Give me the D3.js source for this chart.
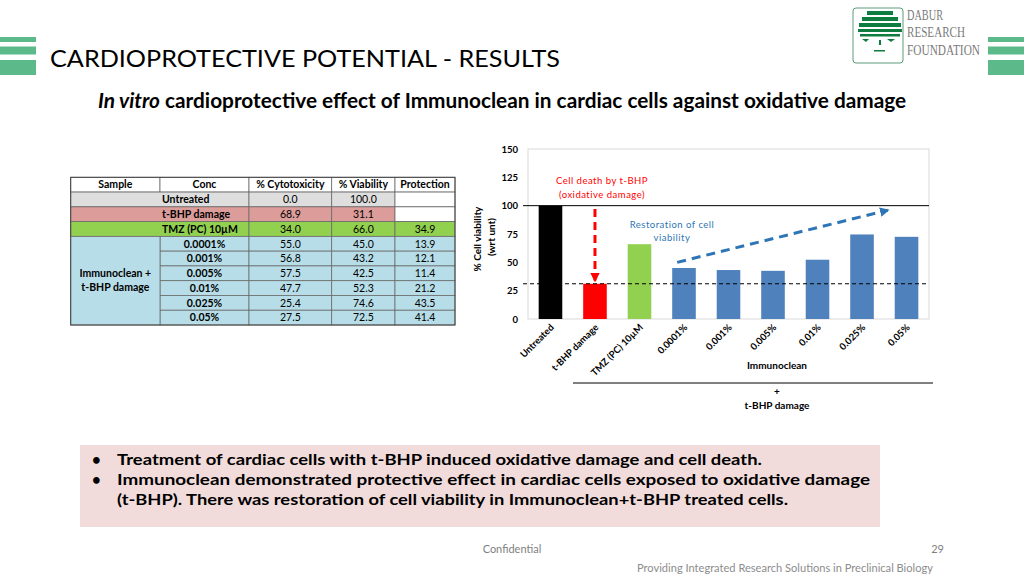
<!DOCTYPE html>
<html>
<head>
<meta charset="utf-8">
<script src="https://cdn.jsdelivr.net/npm/d3@7"></script>
<style>
  body { margin: 0; background: #fff; }
  svg { display: block; font-family: Lato, "Open Sans", sans-serif; }
</style>
</head>
<body>
<svg id="slide" width="1024" height="576"></svg>
<script>
// data
var categories = ["Untreated", "t-BHP damage", "TMZ (PC) 10µM", "0.0001%", "0.001%", "0.005%", "0.01%", "0.025%", "0.05%"];
var groups = ["untreated", "damage", "pc", "test", "test", "test", "test", "test", "test"];
var viability = [100.0, 31.1, 66.0, 45.0, 43.2, 42.5, 52.3, 74.6, 72.5];
var cytotoxicity = [0.0, 68.9, 34.0, 55.0, 56.8, 57.5, 47.7, 25.4, 27.5];
var protection = [null, null, 34.9, 13.9, 12.1, 11.4, 21.2, 43.5, 41.4];
var yTicks = [0, 25, 50, 75, 100, 125, 150];
var tableHeaders = ["Sample", "Conc", "% Cytotoxicity", "% Viability", "Protection"];
var bullets = [
  ["Treatment of cardiac cells with t-BHP induced oxidative damage and cell death."],
  ["Immunoclean demonstrated protective effect in cardiac cells exposed to oxidative damage",
   "(t-BHP). There was restoration of cell viability in Immunoclean+t-BHP treated cells."]
];

var svg = d3.select("#slide");

// scale a text's font size so it spans the given width
function fitText(sel, w) {
  var fs = parseFloat(sel.attr("font-size"));
  var len = sel.node().getComputedTextLength();
  sel.attr("font-size", fs * w / len);
  return sel;
}

// ---- header ----
var barGreen = "#5cb98a";
[[37, 5], [46.5, 8], [60, 15]].forEach(function (b) {
  svg.append("rect").attr("x", 0).attr("y", b[0]).attr("width", 36).attr("height", b[1]).attr("fill", barGreen);
  svg.append("rect").attr("x", 988).attr("y", b[0]).attr("width", 36).attr("height", b[1]).attr("fill", barGreen);
});

svg.append("text")
  .attr("x", 50).attr("y", 67)
  .attr("font-size", 24).attr("font-weight", 400)
  .attr("fill", "#000")
  .attr("textLength", 510).attr("lengthAdjust", "spacingAndGlyphs")
  .text("CARDIOPROTECTIVE POTENTIAL - RESULTS");

// logo
svg.append("rect").attr("x", 853).attr("y", 8).attr("width", 50).attr("height", 55)
  .attr("rx", 3).attr("fill", "#fff").attr("stroke", "#5c9c7a").attr("stroke-width", 1);
var treeGreen = "#0f7d3f";
[[867, 11, 26, 4], [862, 17, 36, 4], [859, 23, 42, 4], [858, 29, 44, 3], [860, 34, 40, 2.5]].forEach(function (r) {
  svg.append("rect").attr("x", r[0]).attr("y", r[1]).attr("width", r[2]).attr("height", r[3]).attr("fill", treeGreen);
});
svg.append("path").attr("d", "M862,39 L869,39 L866,42 Z").attr("fill", treeGreen);
svg.append("path").attr("d", "M887,39 L895,39 L891,42 Z").attr("fill", treeGreen);
svg.append("rect").attr("x", 879).attr("y", 40).attr("width", 2).attr("height", 5).attr("fill", treeGreen);
svg.append("rect").attr("x", 874).attr("y", 50).attr("width", 11).attr("height", 1.5).attr("fill", treeGreen);
[["DABUR", 20, 36], ["RESEARCH", 37, 58], ["FOUNDATION", 55, 73]].forEach(function (t) {
  svg.append("text").attr("x", 907).attr("y", t[1])
    .attr("font-family", "Liberation Serif, serif").attr("font-size", 14)
    .attr("fill", "#7a7a7a")
    .attr("textLength", t[2]).attr("lengthAdjust", "spacingAndGlyphs")
    .text(t[0]);
});

// subtitle
var sub = svg.append("text").attr("x", 98).attr("y", 108)
  .attr("font-size", 16).attr("font-weight", "bold").attr("fill", "#000");
sub.append("tspan").attr("font-style", "italic").text("In vitro");
sub.append("tspan").text(" cardioprotective effect of Immunoclean in cardiac cells against oxidative damage");
fitText(sub, 809);

// ---- table ----
var colX = [70.7, 160, 249, 331.7, 395, 455];
var rowY = d3.range(11).map(function (i) { return 177.3 + i * 14.77; });
var rowFill = { untreated: "#dedede", damage: "#dc9c9a", pc: "#92d050", test: "#b7dee8" };
var tbl = svg.append("g").attr("font-size", 10.5).attr("fill", "#000");
var lineCol = "#6b6b6b";

function cell(x0, x1, y0, y1, fill) {
  tbl.append("rect").attr("x", x0).attr("y", y0).attr("width", x1 - x0).attr("height", y1 - y0)
    .attr("fill", fill).attr("stroke", lineCol).attr("stroke-width", 0.8);
}
function label(x, y, txt, bold, anchor) {
  tbl.append("text").attr("x", x).attr("y", y).attr("dy", "0.36em")
    .attr("text-anchor", anchor || "middle")
    .attr("font-weight", bold ? "bold" : "normal")
    .text(txt);
}

// header row
tableHeaders.forEach(function (h, j) {
  cell(colX[j], colX[j + 1], rowY[0], rowY[1], "#fff");
  label((colX[j] + colX[j + 1]) / 2, (rowY[0] + rowY[1]) / 2, h, true);
});

categories.forEach(function (c, i) {
  var y0 = rowY[i + 1], y1 = rowY[i + 2], ym = (y0 + y1) / 2;
  var f = rowFill[groups[i]];
  if (groups[i] !== "test") {
    cell(colX[0], colX[2], y0, y1, f);
    label(colX[1] + 2, ym, c, true, "start");
  } else {
    cell(colX[1], colX[2], y0, y1, f);
    label((colX[1] + colX[2]) / 2, ym, c, true);
  }
  cell(colX[2], colX[3], y0, y1, f);
  label((colX[2] + colX[3]) / 2, ym, cytotoxicity[i].toFixed(1), false);
  cell(colX[3], colX[4], y0, y1, f);
  label((colX[3] + colX[4]) / 2, ym, viability[i].toFixed(1), false);
  cell(colX[4], colX[5], y0, y1, protection[i] === null ? "#fff" : f);
  if (protection[i] !== null) label((colX[4] + colX[5]) / 2, ym, protection[i].toFixed(1), false);
});
// merged "Immunoclean + t-BHP damage" cell
var firstTest = groups.indexOf("test");
cell(colX[0], colX[1], rowY[firstTest + 1], rowY[10], rowFill.test);
label((colX[0] + colX[1]) / 2, 273.3, "Immunoclean +", true);
label((colX[0] + colX[1]) / 2, 287.3, "t-BHP damage", true);
tbl.append("rect").attr("x", colX[0]).attr("y", rowY[0]).attr("width", colX[5] - colX[0])
  .attr("height", rowY[10] - rowY[0]).attr("fill", "none").attr("stroke", "#444").attr("stroke-width", 1);

// ---- bar chart ----
var plot = { left: 528, right: 929, top: 149, bottom: 319 };
var x = d3.scaleBand().domain(categories).range([plot.left, plot.right]).paddingInner(0.47).paddingOuter(0.24);
var y = d3.scaleLinear().domain([0, 150]).range([plot.bottom, plot.top]);
var barColor = d3.scaleOrdinal().domain(["untreated", "damage", "pc", "test"])
  .range(["#000000", "#ff0000", "#92d050", "#4f81bd"]);

var chart = svg.append("g");
chart.append("rect").attr("x", plot.left).attr("y", plot.top)
  .attr("width", plot.right - plot.left).attr("height", plot.bottom - plot.top)
  .attr("fill", "none").attr("stroke", "#d9d9d9").attr("stroke-width", 1);

var yAxis = chart.append("g").attr("transform", "translate(" + plot.left + ",0)")
  .call(d3.axisLeft(y).tickValues(yTicks).tickSize(0).tickPadding(10));
yAxis.select(".domain").remove();
yAxis.selectAll("text").attr("font-family", "Lato, sans-serif").attr("font-size", 9.5)
  .attr("font-weight", "bold").attr("fill", "#000");

chart.selectAll("rect.bar").data(categories).enter().append("rect")
  .attr("class", "bar")
  .attr("x", function (d) { return x(d); })
  .attr("y", function (d, i) { return y(viability[i]); })
  .attr("width", x.bandwidth())
  .attr("height", function (d, i) { return y(0) - y(viability[i]); })
  .attr("fill", function (d, i) { return barColor(groups[i]); });

// reference lines: untreated level and t-BHP level
chart.append("line").attr("x1", plot.left - 5).attr("x2", plot.right)
  .attr("y1", y(viability[0])).attr("y2", y(viability[0]))
  .attr("stroke", "#000").attr("stroke-width", 1);
chart.append("line").attr("x1", plot.left - 5).attr("x2", plot.right)
  .attr("y1", y(viability[1])).attr("y2", y(viability[1]))
  .attr("stroke", "#000").attr("stroke-width", 1).attr("stroke-dasharray", "4,3");

// arrows
var defs = svg.append("defs");
[["arrRed", "#ff0000"], ["arrBlue", "#2e75b6"]].forEach(function (a) {
  defs.append("marker").attr("id", a[0]).attr("viewBox", "0 0 10 10").attr("refX", 8).attr("refY", 5)
    .attr("markerWidth", 3.2).attr("markerHeight", 3.2).attr("orient", "auto")
    .append("path").attr("d", "M0,0 L10,5 L0,10 Z").attr("fill", a[1]);
});
var redX = x(categories[1]) + x.bandwidth() / 2;
chart.append("line").attr("x1", redX).attr("x2", redX).attr("y1", y(97)).attr("y2", y(34))
  .attr("stroke", "#ff0000").attr("stroke-width", 3).attr("stroke-dasharray", "8,5")
  .attr("marker-end", "url(#arrRed)");
chart.append("line")
  .attr("x1", x(categories[3]) + 5).attr("y1", y(50))
  .attr("x2", x(categories[8]) - 7).attr("y2", y(96))
  .attr("stroke", "#2e75b6").attr("stroke-width", 3).attr("stroke-dasharray", "9,6")
  .attr("marker-end", "url(#arrBlue)");

// annotations
[["Cell death by t-BHP", 184], ["(oxidative damage)", 198]].forEach(function (t) {
  chart.append("text").attr("x", 602).attr("y", t[1]).attr("text-anchor", "middle")
    .attr("font-size", 9.5).attr("fill", "#ff0000").attr("letter-spacing", 0.5).text(t[0]);
});
[["Restoration of cell", 228], ["viability", 241]].forEach(function (t) {
  chart.append("text").attr("x", 672).attr("y", t[1]).attr("text-anchor", "middle")
    .attr("font-size", 9.5).attr("fill", "#2e75b6").attr("letter-spacing", 0.5).text(t[0]);
});

// x labels
chart.selectAll("text.xl").data(categories).enter().append("text")
  .attr("class", "xl")
  .attr("transform", function (d) { return "translate(" + (x(d) + x.bandwidth() / 2 + 4) + ",328) rotate(-45)"; })
  .attr("text-anchor", "end").attr("font-size", 9.5).attr("font-weight", "bold").attr("fill", "#000")
  .text(function (d) { return d; });

chart.append("text").attr("x", 777).attr("y", 369).attr("text-anchor", "middle")
  .attr("font-size", 10).attr("font-weight", "bold").text("Immunoclean");
chart.append("line").attr("x1", 573).attr("x2", 933).attr("y1", 383).attr("y2", 383)
  .attr("stroke", "#000").attr("stroke-width", 1);
chart.append("text").attr("x", 777).attr("y", 395).attr("text-anchor", "middle")
  .attr("font-size", 10).attr("font-weight", "bold").text("+");
chart.append("text").attr("x", 777).attr("y", 409).attr("text-anchor", "middle")
  .attr("font-size", 10).attr("font-weight", "bold").text("t-BHP damage");

// y title
chart.append("text").attr("transform", "translate(481,239) rotate(-90)").attr("text-anchor", "middle")
  .attr("font-size", 10).attr("font-weight", "bold").text("% Cell viability");
chart.append("text").attr("transform", "translate(495,237) rotate(-90)").attr("text-anchor", "middle")
  .attr("font-size", 10).attr("font-weight", "bold").text("(wrt unt)");

// ---- bullet box ----
svg.append("rect").attr("x", 80).attr("y", 445).attr("width", 800).attr("height", 82).attr("fill", "#f2dcdb");
var lineY = [465, 485, 505];
var li = 0;
bullets.forEach(function (b) {
  svg.append("text").attr("x", 92).attr("y", lineY[li]).attr("font-size", 15).attr("font-weight", "bold").text("•");
  b.forEach(function (ln) {
    svg.append("text").attr("x", 117).attr("y", lineY[li])
      .attr("font-size", 15.5).attr("font-weight", "bold").attr("fill", "#000")
      .attr("textLength", [645, 753, 671][li]).attr("lengthAdjust", "spacingAndGlyphs")
      .text(ln);
    li++;
  });
});

// ---- footer ----
svg.append("text").attr("x", 512).attr("y", 553).attr("text-anchor", "middle")
  .attr("font-size", 11).attr("fill", "#7f7f7f").text("Confidential");
svg.append("text").attr("x", 944).attr("y", 553).attr("text-anchor", "end")
  .attr("font-size", 11).attr("fill", "#7f7f7f").text("29");
fitText(svg.append("text").attr("x", 637).attr("y", 572)
  .attr("font-size", 10).attr("fill", "#8c8c8c")
  .text("Providing Integrated Research Solutions in Preclinical Biology"), 296);
</script>
</body>
</html>
